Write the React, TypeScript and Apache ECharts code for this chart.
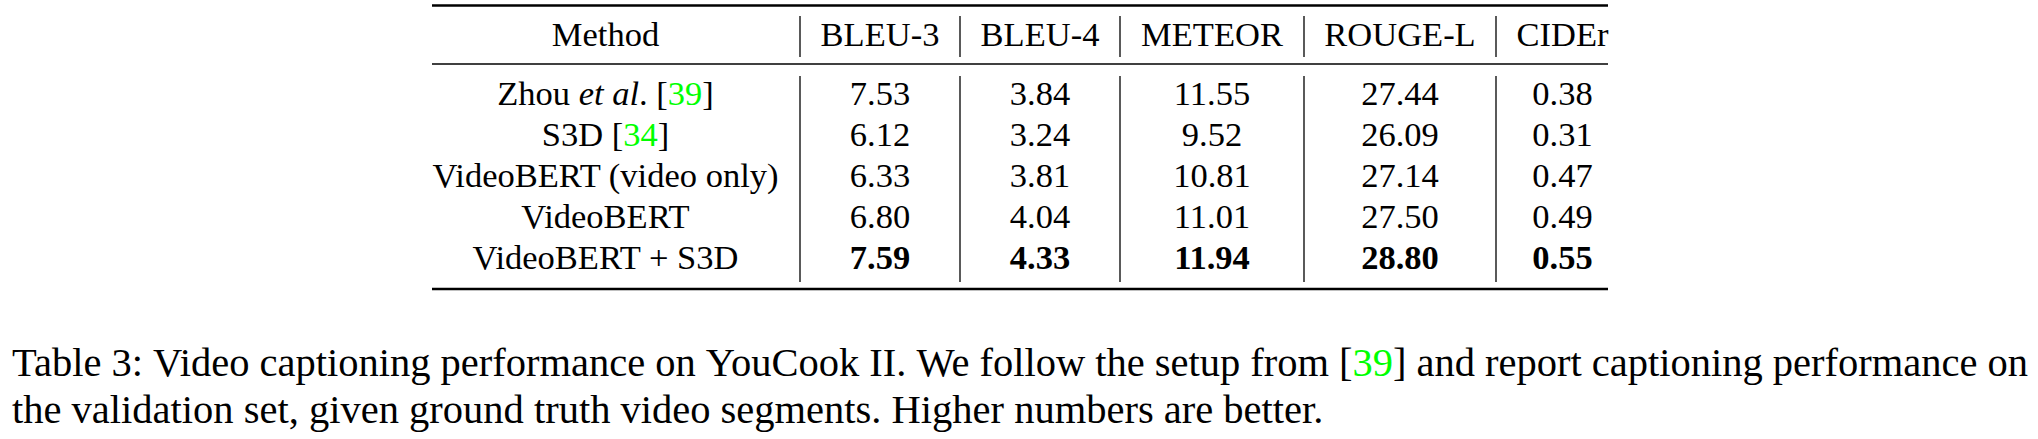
import React, { useEffect, useRef } from 'react';
import * as echarts from 'echarts';

// table content
const methods = ['Zhou et al.', 'S3D', 'VideoBERT (video only)', 'VideoBERT', 'VideoBERT + S3D'];
const citations = ['39', '34', '', '', ''];
const metricNames = ['BLEU-3', 'BLEU-4', 'METEOR', 'ROUGE-L', 'CIDEr'];
const bleu3 = [7.53, 6.12, 6.33, 6.8, 7.59];
const bleu4 = [3.84, 3.24, 3.81, 4.04, 4.33];
const meteor = [11.55, 9.52, 10.81, 11.01, 11.94];
const rougeL = [27.44, 26.09, 27.14, 27.5, 28.8];
const cider = [0.38, 0.31, 0.47, 0.49, 0.55];
const captionLine1 = 'Table 3: Video captioning performance on YouCook II. We follow the setup from [39] and report captioning performance on';
const captionCite = '39';
const captionLine2 = 'the validation set, given ground truth video segments. Higher numbers are better.';

// layout (pixels)
const FONT = 'Liberation Serif, Times New Roman, serif';
const TABLE_FS = 34.5;
const CAPTION_FS = 40.5;
const GREEN = '#00ff00';
const TABLE_LEFT = 432;
const COL_EDGES = [0, 368, 528, 688, 872, 1064, 1176];
const PAD = 21;
const GRID_TOP = 72;
const GRID_H = 206;
const CAP_LEFT = 12;
const CAP_RIGHT = 2028;

const colCenter = (i: number) => {
  const l = COL_EDGES[i] + (i > 0 ? PAD : 0);
  const r = COL_EDGES[i + 1] - (i < COL_EDGES.length - 2 ? PAD : 0);
  return (l + r) / 2;
};

const columns = [bleu3, bleu4, meteor, rougeL, cider];

// justified first caption line: stretch the spaces so the line fills the width
function justifiedLine(text: string) {
  const ctx = document.createElement('canvas').getContext('2d')!;
  ctx.font = `${CAPTION_FS}px ${FONT}`;
  const words = text.split(' ');
  const natural = ctx.measureText(text).width;
  const space = ctx.measureText(' ').width;
  const spaceW = space + (CAP_RIGHT - CAP_LEFT - natural) / (words.length - 1);
  const cite = `[${captionCite}]`;
  const parts = words.map((w) => {
    const k = w.indexOf(cite);
    if (k < 0) return `{n|${w}}`;
    return `{n|${w.slice(0, k)}[}{g|${captionCite}}{n|]${w.slice(k + cite.length)}}`;
  });
  return { text: parts.join('{s| }'), spaceW };
}

export default function App() {
  const ref = useRef<HTMLDivElement>(null);

  useEffect(() => {
    if (!ref.current) return;
    const chart = echarts.init(ref.current, null, { renderer: 'svg' });

    const headers = ['Method', ...metricNames];
    const headerPos = headers.map((_, i) => colCenter(i));

    const cells: number[][] = [];
    columns.forEach((vals, c) => {
      const best = Math.max(...vals);
      vals.forEach((v, r) => cells.push([colCenter(c + 1), r, v, v === best ? 1 : 0]));
    });

    const right = TABLE_LEFT + COL_EDGES[COL_EDGES.length - 1];
    const seps = COL_EDGES.slice(1, -1).map((e) => TABLE_LEFT + e);
    const ruleY = [5.5, 64, 289];
    const ruleW = [2.6, 1.6, 2.6];

    const lines: any[] = [];
    ruleY.forEach((y, i) =>
      lines.push({ type: 'line', shape: { x1: TABLE_LEFT, y1: y, x2: right, y2: y }, style: { stroke: '#000', lineWidth: ruleW[i] } }),
    );
    seps.forEach((x) => {
      lines.push({ type: 'line', shape: { x1: x, y1: 16, x2: x, y2: 57 }, style: { stroke: '#000', lineWidth: 1.3 } });
      lines.push({ type: 'line', shape: { x1: x, y1: 76, x2: x, y2: 282 }, style: { stroke: '#000', lineWidth: 1.3 } });
    });

    const capStyle = { fontSize: CAPTION_FS, fontFamily: FONT, fill: '#000' };
    const line1 = justifiedLine(captionLine1);

    chart.setOption({
      animation: false,
      grid: { left: TABLE_LEFT, top: GRID_TOP, width: COL_EDGES[COL_EDGES.length - 1], height: GRID_H },
      xAxis: {
        type: 'value',
        position: 'top',
        min: 0,
        max: COL_EDGES[COL_EDGES.length - 1],
        axisLine: { show: false },
        axisTick: { show: false },
        splitLine: { show: false },
        axisLabel: {
          customValues: headerPos,
          formatter: (v: number) => headers[headerPos.findIndex((p) => Math.abs(p - v) < 0.01)] ?? '',
          margin: GRID_TOP - 33.5,
          verticalAlign: 'middle',
          color: '#000',
          fontSize: TABLE_FS,
          fontFamily: FONT,
        },
      },
      yAxis: {
        type: 'category',
        inverse: true,
        data: methods,
        axisLine: { show: false },
        axisTick: { show: false },
        splitLine: { show: false },
        axisLabel: {
          interval: 0,
          inside: true,
          align: 'center',
          margin: colCenter(0),
          color: '#000',
          fontSize: TABLE_FS,
          fontFamily: FONT,
          formatter: (v: string) => {
            const i = methods.indexOf(v);
            const name = v.replace('et al', '{i|et al}');
            return citations[i] ? `${name} [{g|${citations[i]}}]` : name;
          },
          rich: {
            i: { fontStyle: 'italic', fontSize: TABLE_FS, fontFamily: FONT, color: '#000' },
            g: { color: GREEN, fontSize: TABLE_FS, fontFamily: FONT },
          },
        },
      },
      series: [
        {
          type: 'custom',
          data: cells,
          renderItem: (_p: any, api: any) => {
            const [x, y] = api.coord([api.value(0), api.value(1)]);
            return {
              type: 'text',
              x,
              y,
              style: {
                text: (api.value(2) as number).toFixed(2),
                fill: '#000',
                fontSize: TABLE_FS,
                fontFamily: FONT,
                fontWeight: api.value(3) === 1 ? 'bold' : 'normal',
                align: 'center',
                verticalAlign: 'middle',
              },
            };
          },
        },
      ],
      graphic: [
        ...lines,
        {
          type: 'text',
          x: CAP_LEFT,
          y: 362.3,
          style: {
            ...capStyle,
            verticalAlign: 'middle',
            text: line1.text,
            rich: {
              n: { ...capStyle },
              g: { ...capStyle, fill: GREEN },
              s: { ...capStyle, width: line1.spaceW },
            },
          },
        },
        {
          type: 'text',
          x: CAP_LEFT,
          y: 409.3,
          style: { ...capStyle, verticalAlign: 'middle', text: captionLine2 },
        },
      ],
    });

    return () => chart.dispose();
  }, []);

  return <div ref={ref} style={{ position: 'fixed', left: 0, top: 0, width: 2038, height: 439, background: '#fff' }} />;
}
